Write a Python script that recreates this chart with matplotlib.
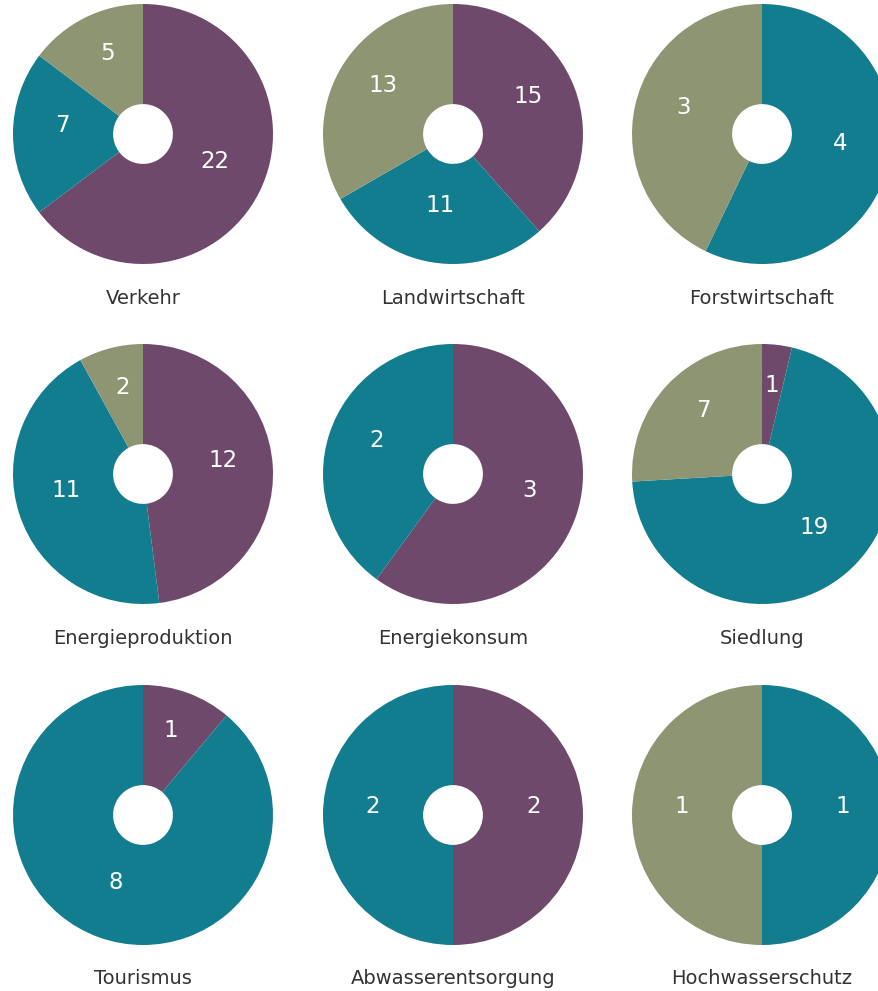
import numpy as np
import matplotlib.pyplot as plt

# categories and counts per colour (purple, teal, olive)
titles = ['Verkehr', 'Landwirtschaft', 'Forstwirtschaft',
          'Energieproduktion', 'Energiekonsum', 'Siedlung',
          'Tourismus', 'Abwasserentsorgung', 'Hochwasserschutz']
purple = [22, 15, 0, 12, 3, 1, 1, 2, 0]
teal = [7, 11, 4, 11, 2, 19, 8, 2, 1]
olive = [5, 13, 3, 2, 0, 7, 0, 0, 1]

colors = ['#6f496c', '#127d8f', '#8e9573']

W, H = 879, 991
fig = plt.figure(figsize=(W / 100, H / 100), dpi=100)

centers_x = [143, 453, 762]
centers_y = [134, 474, 815]
R = 130

for i, title in enumerate(titles):
    cx = centers_x[i % 3]
    cy = centers_y[i // 3]
    ax = fig.add_axes([(cx - R) / W, 1 - (cy + R) / H, 2 * R / W, 2 * R / H])
    vals = [purple[i], teal[i], olive[i]]
    cols = [c for v, c in zip(vals, colors) if v > 0]
    vals = [v for v in vals if v > 0]
    ax.pie(vals, colors=cols, startangle=90, counterclock=False, radius=1,
           wedgeprops=dict(width=0.77, linewidth=0))
    # value labels, placed at the middle of each wedge
    total = sum(vals)
    start = 90.0
    for v in vals:
        ang = np.deg2rad(start - v / total * 180)
        ax.text(0.62 * np.cos(ang), 0.62 * np.sin(ang) + 0.065, str(v),
                ha='center', va='center', color='white', fontsize=16.5,
                family='DejaVu Sans')
        start -= v / total * 360
    ax.set_xlim(-1, 1)
    ax.set_ylim(-1, 1)
    ax.set_aspect('equal')
    ax.axis('off')
    fig.text(cx / W, 1 - (cy + 164) / H, title, ha='center', va='center',
             fontsize=14, color='#333333', family='DejaVu Sans')

plt.savefig('out.png', dpi=100)
